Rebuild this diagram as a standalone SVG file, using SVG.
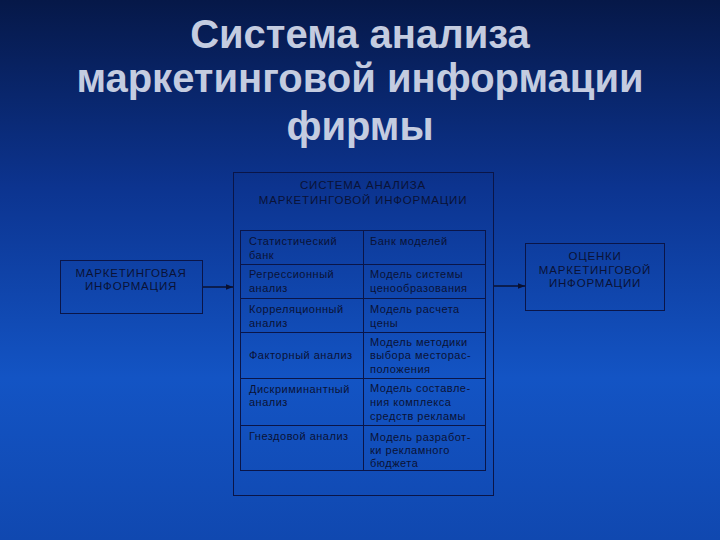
<svg xmlns="http://www.w3.org/2000/svg" width="720" height="540" viewBox="0 0 720 540">
<defs>
<linearGradient id="bg" x1="0" y1="0" x2="0" y2="1">
<stop offset="0" stop-color="#061848"/>
<stop offset="0.35" stop-color="#0c3490"/>
<stop offset="0.7" stop-color="#1354c4"/>
<stop offset="1" stop-color="#1048b0"/>
</linearGradient>
<marker id="arr" viewBox="0 0 10 10" refX="10" refY="5" markerWidth="7" markerHeight="7" orient="auto" markerUnits="userSpaceOnUse">
<path d="M0,1 L10,5 L0,9 z" fill="#0a1030"/>
</marker>
<style>
.title{font-family:"Liberation Sans",Arial,sans-serif;font-weight:bold;font-size:40px;fill:#c4cce0;text-anchor:middle}
.box{fill:none;stroke:#0a1548;stroke-width:1}
.t{font-family:"Liberation Sans",Arial,sans-serif;font-size:11px;fill:#0a1236;letter-spacing:0.5px}
.h{font-size:11.5px;letter-spacing:0.8px}
.c{text-anchor:middle}
.line{stroke:#0a1030;stroke-width:1.5;fill:none}
</style>
</defs>
<rect width="720" height="540" fill="url(#bg)"/>
<g id="title">
<text class="title" x="360" y="48">Система анализа</text>
<text class="title" x="360" y="92">маркетинговой информации</text>
<text class="title" x="360" y="140">фирмы</text>
</g>
<g id="system">
<rect class="box" x="233.5" y="172.5" width="260" height="323"/>
<text class="t h c" x="363" y="189">СИСТЕМА АНАЛИЗА</text>
<text class="t h c" x="363" y="204">МАРКЕТИНГОВОЙ ИНФОРМАЦИИ</text>
</g>
<g id="table">
<rect class="box" x="240.5" y="230.5" width="245" height="240"/>
<line class="box" x1="363.5" y1="230" x2="363.5" y2="471"/>
<line class="box" x1="240" y1="264.5" x2="486" y2="264.5"/>
<line class="box" x1="240" y1="298.5" x2="486" y2="298.5"/>
<line class="box" x1="240" y1="332.5" x2="486" y2="332.5"/>
<line class="box" x1="240" y1="378.5" x2="486" y2="378.5"/>
<line class="box" x1="240" y1="425.5" x2="486" y2="425.5"/>
<g id="cell-l1"><text class="t" x="249" y="245">Статистический</text><text class="t" x="249" y="259">банк</text></g>
<g id="cell-r1"><text class="t" x="370" y="245">Банк моделей</text></g>
<g id="cell-l2"><text class="t" x="249" y="278">Регрессионный</text><text class="t" x="249" y="292">анализ</text></g>
<g id="cell-r2"><text class="t" x="370" y="278">Модель системы</text><text class="t" x="370" y="292">ценообразования</text></g>
<g id="cell-l3"><text class="t" x="249" y="313">Корреляционный</text><text class="t" x="249" y="327">анализ</text></g>
<g id="cell-r3"><text class="t" x="370" y="313">Модель расчета</text><text class="t" x="370" y="327">цены</text></g>
<g id="cell-l4"><text class="t" x="249" y="359">Факторный анализ</text></g>
<g id="cell-r4"><text class="t" x="370" y="346">Модель методики</text><text class="t" x="370" y="359">выбора местораc-</text><text class="t" x="370" y="373">положения</text></g>
<g id="cell-l5"><text class="t" x="249" y="393">Дискриминантный</text><text class="t" x="249" y="406">анализ</text></g>
<g id="cell-r5"><text class="t" x="370" y="392">Модель составле-</text><text class="t" x="370" y="406">ния комплекса</text><text class="t" x="370" y="420">средств рекламы</text></g>
<g id="cell-l6"><text class="t" x="249" y="440">Гнездовой анализ</text></g>
<g id="cell-r6"><text class="t" x="370" y="441">Модель разработ-</text><text class="t" x="370" y="454">ки рекламного</text><text class="t" x="370" y="467">бюджета</text></g>
</g>
<g id="input">
<rect class="box" x="60.5" y="260.5" width="142" height="53"/>
<text class="t h c" x="131" y="277">МАРКЕТИНГОВАЯ</text>
<text class="t h c" x="131" y="290">ИНФОРМАЦИЯ</text>
</g>
<g id="output">
<rect class="box" x="525.5" y="243.5" width="139" height="67"/>
<text class="t h c" x="595" y="260">ОЦЕНКИ</text>
<text class="t h c" x="595" y="274">МАРКЕТИНГОВОЙ</text>
<text class="t h c" x="595" y="287">ИНФОРМАЦИИ</text>
</g>
<g id="connectors">
<line class="line" x1="203" y1="287" x2="233" y2="287" marker-end="url(#arr)"/>
<line class="line" x1="494" y1="286" x2="525" y2="286" marker-end="url(#arr)"/>
</g>
</svg>
